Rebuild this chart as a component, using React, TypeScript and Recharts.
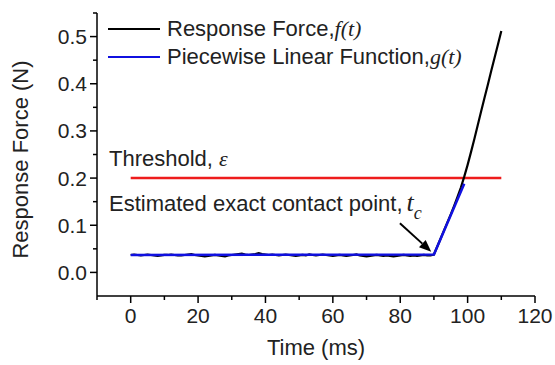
import React from 'react';
import { LineChart, Line, XAxis, YAxis, ReferenceLine, Legend, Label } from 'recharts';

// response force f(t), sampled every 1 ms from 0 to 110 ms
const forceTimes = Array.from({ length: 111 }, (_, i) => i);
const forceValues = [
  0.037, 0.038, 0.037, 0.036, 0.037, 0.038, 0.037, 0.036, 0.035, 0.036,
  0.037, 0.037, 0.038, 0.037, 0.036, 0.036, 0.037, 0.038, 0.039, 0.037,
  0.036, 0.035, 0.034, 0.035, 0.036, 0.037, 0.036, 0.035, 0.034, 0.036,
  0.037, 0.038, 0.039, 0.040, 0.038, 0.037, 0.038, 0.039, 0.041, 0.039,
  0.038, 0.037, 0.038, 0.037, 0.036, 0.037, 0.038, 0.037, 0.036, 0.035,
  0.036, 0.037, 0.036, 0.038, 0.037, 0.036, 0.037, 0.038, 0.037, 0.036,
  0.035, 0.036, 0.037, 0.036, 0.035, 0.036, 0.037, 0.038, 0.036, 0.035,
  0.034, 0.035, 0.036, 0.037, 0.036, 0.035, 0.036, 0.035, 0.034, 0.035,
  0.036, 0.037, 0.036, 0.035, 0.036, 0.035, 0.036, 0.037, 0.036, 0.036,
  0.038,
  0.055, 0.072, 0.089, 0.106, 0.123, 0.141, 0.160, 0.180, 0.203, 0.228,
  0.255, 0.283, 0.312, 0.341, 0.370, 0.398, 0.427, 0.455, 0.483, 0.512,
];

// piecewise linear fit g(t)
const fitTimes = [0, 90, 99];
const fitValues = [0.037, 0.038, 0.188];

// threshold epsilon
const thresholdTimes = [0, 110];
const thresholdValues = [0.2, 0.2];

// arrow to the estimated contact point
const arrowFrom = { t: 79.9, v: 0.104 };
const arrowTo = { t: 89.2, v: 0.044 };

const xTicks = [-10, 0, 10, 20, 30, 40, 50, 60, 70, 80, 90, 100, 110, 120];
const yTicks = [0, 0.05, 0.1, 0.15, 0.2, 0.25, 0.3, 0.35, 0.4, 0.45, 0.5, 0.55];

const forceData = forceTimes.map((t, i) => ({ t, f: forceValues[i] }));
const fitData = fitTimes.map((t, i) => ({ t, g: fitValues[i] }));
const thresholdData = thresholdTimes.map((t, i) => ({ t, e: thresholdValues[i] }));

const SANS = '"Liberation Sans", Arial, sans-serif';
const SERIF = '"Liberation Serif", "Times New Roman", serif';

const XTick = ({ x, y, payload }: any) => {
  const v = payload.value;
  const major = v >= 0 && v % 20 === 0;
  return (
    <g>
      <line x1={x} x2={x} y1={y} y2={y + (major ? 7 : 4)} stroke="#000" strokeWidth={1.5} />
      {major && (
        <text x={x} y={y + 27} textAnchor="middle" fontSize={21} fontFamily={SANS} fill="#222">
          {v}
        </text>
      )}
    </g>
  );
};

const YTick = ({ x, y, payload }: any) => {
  const v = payload.value;
  const major = Math.round(v * 100) % 10 === 0;
  return (
    <g>
      <line x1={x} x2={x - (major ? 7 : 4)} y1={y} y2={y} stroke="#000" strokeWidth={1.5} />
      {major && (
        <text x={x - 10} y={y} dy="0.36em" textAnchor="end" fontSize={21} fontFamily={SANS} fill="#222">
          {v.toFixed(1)}
        </text>
      )}
    </g>
  );
};

const Arrow = (props: any) => {
  const { x1, y1, x2, y2 } = props;
  if (x1 == null) return null;
  const a = Math.atan2(y2 - y1, x2 - x1);
  const len = 12;
  const w = 5;
  const bx = x2 - len * Math.cos(a);
  const by = y2 - len * Math.sin(a);
  const px = -Math.sin(a) * w;
  const py = Math.cos(a) * w;
  return (
    <g>
      <line x1={x1} y1={y1} x2={bx} y2={by} stroke="#000" strokeWidth={2} />
      <polygon points={`${x2},${y2} ${bx + px},${by + py} ${bx - px},${by - py}`} fill="#000" />
    </g>
  );
};

const LegendBox = () => (
  <div style={{ fontFamily: SANS, fontSize: 22, color: '#222', lineHeight: '28px' }}>
    <div style={{ display: 'flex', alignItems: 'center' }}>
      <span style={{ width: 52, height: 2, background: '#000', display: 'block', marginRight: 7 }} />
      <span>
        Response Force,<span style={{ fontFamily: SERIF, fontStyle: 'italic' }}>f(t)</span>
      </span>
    </div>
    <div style={{ display: 'flex', alignItems: 'center' }}>
      <span style={{ width: 52, height: 2, background: '#1010e0', display: 'block', marginRight: 7 }} />
      <span>
        Piecewise Linear Function,<span style={{ fontFamily: SERIF, fontStyle: 'italic' }}>g(t)</span>
      </span>
    </div>
  </div>
);

export default function App() {
  return (
    <div style={{ position: 'relative', width: 555, height: 365, background: '#fff' }}>
      <style>{`body{margin:0}`}</style>
      <LineChart width={555} height={365} margin={{ top: 13, right: 20, bottom: 0, left: 0 }}>
        <XAxis
          type="number"
          dataKey="t"
          domain={[-10, 120]}
          ticks={xTicks}
          interval={0}
          allowDataOverflow
          height={69}
          tickSize={0}
          tickMargin={0}
          tick={<XTick />}
          axisLine={{ stroke: '#000', strokeWidth: 1.5 }}
        >
          <Label
            content={({ viewBox }: any) => (
              <text
                x={viewBox.x + viewBox.width / 2}
                y={viewBox.y + 59}
                textAnchor="middle"
                fontSize={22}
                fontFamily={SANS}
                fill="#222"
              >
                Time (ms)
              </text>
            )}
          />
        </XAxis>
        <YAxis
          type="number"
          domain={[-0.05, 0.55]}
          ticks={yTicks}
          interval={0}
          allowDataOverflow
          width={97}
          tickSize={0}
          tickMargin={0}
          tick={<YTick />}
          axisLine={{ stroke: '#000', strokeWidth: 1.5 }}
        >
          <Label
            content={({ viewBox }: any) => {
              const cx = 28;
              const cy = viewBox.y + viewBox.height / 2 + 5;
              return (
                <text
                  x={cx}
                  y={cy}
                  transform={`rotate(-90 ${cx} ${cy})`}
                  textAnchor="middle"
                  fontSize={22}
                  fontFamily={SANS}
                  fill="#222"
                >
                  Response Force (N)
                </text>
              );
            }}
          />
        </YAxis>
        <Legend
          verticalAlign="middle"
          align="center"
          content={<LegendBox />}
          wrapperStyle={{ position: 'absolute', top: 15, left: 108, width: 'auto' }}
        />
        <Line
          data={thresholdData}
          dataKey="e"
          stroke="#ee1c1c"
          strokeWidth={2.5}
          dot={false}
          isAnimationActive={false}
          legendType="none"
        />
        <Line
          data={forceData}
          dataKey="f"
          stroke="#000"
          strokeWidth={2.2}
          dot={false}
          isAnimationActive={false}
        />
        <Line
          data={fitData}
          dataKey="g"
          stroke="#1010e0"
          strokeWidth={2.5}
          dot={false}
          isAnimationActive={false}
        />
        <ReferenceLine
          segment={[
            { x: arrowFrom.t, y: arrowFrom.v },
            { x: arrowTo.t, y: arrowTo.v },
          ]}
          shape={<Arrow />}
        />
      </LineChart>
      <div
        style={{
          position: 'absolute',
          left: 109,
          top: 146,
          fontFamily: SANS,
          fontSize: 22,
          color: '#222',
          whiteSpace: 'nowrap',
        }}
      >
        Threshold, <span style={{ fontFamily: SERIF, fontStyle: 'italic' }}>ε</span>
      </div>
      <div
        style={{
          position: 'absolute',
          left: 109,
          top: 188,
          fontFamily: SANS,
          fontSize: 22,
          color: '#222',
          whiteSpace: 'nowrap',
        }}
      >
        Estimated exact contact point,
        <span style={{ fontFamily: SERIF, fontStyle: 'italic', fontSize: 26, marginLeft: 4 }}>t</span>
        <sub style={{ fontFamily: SERIF, fontStyle: 'italic', fontSize: 18, verticalAlign: '-8px' }}>c</sub>
      </div>
    </div>
  );
}
